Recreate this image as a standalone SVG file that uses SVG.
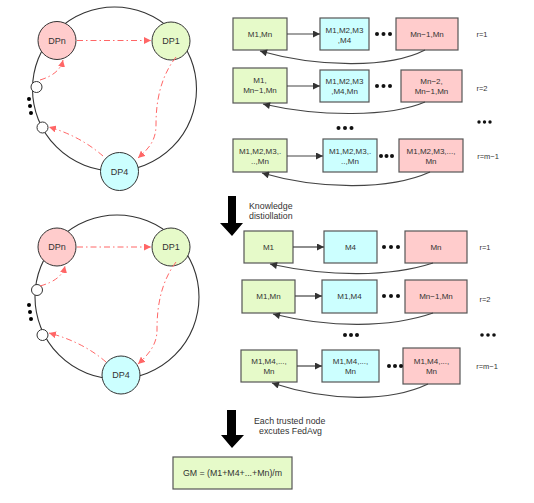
<svg xmlns="http://www.w3.org/2000/svg" width="534" height="503" viewBox="0 0 534 503">
<defs>
<marker id="ar" viewBox="0 0 10 10" refX="10" refY="5" markerWidth="7" markerHeight="7" orient="auto" markerUnits="userSpaceOnUse"><path d="M0,0 L10,5 L0,10 z" fill="#FF6666"/></marker>
<marker id="ab" viewBox="0 0 10 10" refX="10" refY="5" markerWidth="8" markerHeight="7" orient="auto" markerUnits="userSpaceOnUse"><path d="M0,0 L10,5 L0,10 z" fill="#333"/></marker>
<style>
.ring{fill:none;stroke:#333;stroke-width:1.1}
.g{fill:#E6FAC9;stroke:#555;stroke-width:1.2}
.b{fill:#CCFFFF;stroke:#555;stroke-width:1.2}
.p{fill:#FFCCCC;stroke:#555;stroke-width:1.2}
.sc{fill:#fff;stroke:#333;stroke-width:1}
.red{fill:none;stroke:#FF6666;stroke-width:1;stroke-dasharray:6 3 1.5 3;marker-end:url(#ar)}
.blk{fill:none;stroke:#444;stroke-width:1.2;marker-end:url(#ab)}
text{font-family:"Liberation Sans",Arial,sans-serif;fill:#333;text-anchor:middle}
.t{font-size:8px}
.dp{font-size:9px}
.r{font-size:7.5px}
.lab{font-size:8.8px;text-anchor:start}
</style>
</defs>

<!-- Ring 1 -->
<g id="ring1">
<circle class="ring" cx="114.5" cy="89" r="82"/>
<circle class="sc" cx="36.5" cy="87" r="5.5"/>
<circle class="sc" cx="42.5" cy="127.5" r="5.5"/>
<circle cx="29" cy="99" r="2"/><circle cx="30" cy="106" r="2"/><circle cx="31" cy="113" r="2"/>
</g>
<g id="DPn1"><circle cx="57" cy="40.5" r="19" fill="#FFCCCC" stroke="#333"/><text class="dp" x="57" y="43.5">DPn</text></g>
<g id="DP1a"><circle cx="171" cy="41" r="19" fill="#E6FAC9" stroke="#333"/><text class="dp" x="171" y="44">DP1</text></g>
<g id="DP4a"><circle cx="119.5" cy="171.5" r="19" fill="#CCFFFF" stroke="#333"/><text class="dp" x="119.5" y="174.5">DP4</text></g>

<!-- Ring 2 -->
<g id="ring2">
<circle class="ring" cx="117" cy="297" r="82"/>
<circle class="sc" cx="37" cy="290" r="5.5"/>
<circle class="sc" cx="42.5" cy="335" r="5.5"/>
<circle cx="29" cy="305" r="2"/><circle cx="30" cy="312" r="2"/><circle cx="31" cy="319" r="2"/>
</g>
<g id="DPn2"><circle cx="57" cy="247" r="19" fill="#FFCCCC" stroke="#333"/><text class="dp" x="57" y="250">DPn</text></g>
<g id="DP1b"><circle cx="171" cy="247" r="19" fill="#E6FAC9" stroke="#333"/><text class="dp" x="171" y="250">DP1</text></g>
<g id="DP4b"><circle cx="121" cy="375" r="19" fill="#CCFFFF" stroke="#333"/><text class="dp" x="121" y="378">DP4</text></g>

<!-- Section 1 boxes -->
<g id="s1r1g"><rect class="g" x="233" y="18" width="54" height="32"/><text class="t" x="260" y="37">M1,Mn</text></g>
<g id="s1r1b"><rect class="b" x="320" y="18" width="49" height="32"/><text class="t" x="344.5" y="33">M1,M2,M3</text><text class="t" x="344.5" y="43">,M4</text></g>
<g id="s1r1p"><rect class="p" x="396" y="18" width="62" height="32"/><text class="t" x="427" y="37">Mn−1,Mn</text></g>
<text class="r" x="482" y="37">r=1</text>
<g fill="#111"><circle cx="377" cy="34" r="2"/><circle cx="383.5" cy="34" r="2"/><circle cx="390" cy="34" r="2"/></g>

<g id="s1r2g"><rect class="g" x="233" y="68" width="54" height="35"/><text class="t" x="260" y="83">M1,</text><text class="t" x="260" y="93">Mn−1,Mn</text></g>
<g id="s1r2b"><rect class="b" x="320" y="70" width="49" height="32"/><text class="t" x="344.5" y="84">M1,M2,M3</text><text class="t" x="344.5" y="94">,M4,Mn</text></g>
<g id="s1r2p"><rect class="p" x="401" y="70" width="61" height="32"/><text class="t" x="431.5" y="84">Mn−2,</text><text class="t" x="431.5" y="94">Mn−1,Mn</text></g>
<text class="r" x="482" y="91">r=2</text>
<g fill="#111"><circle cx="377" cy="86" r="2"/><circle cx="383.5" cy="86" r="2"/><circle cx="390" cy="86" r="2"/></g>

<g fill="#111"><circle cx="338.5" cy="128" r="2"/><circle cx="345" cy="128" r="2"/><circle cx="351.5" cy="128" r="2"/></g>
<g fill="#111"><circle cx="479" cy="122" r="1.7"/><circle cx="484.5" cy="122" r="1.7"/><circle cx="490" cy="122" r="1.7"/></g>

<g id="s1r3g"><rect class="g" x="233" y="139" width="54" height="33"/><text class="t" x="260" y="154">M1,M2,M3,.</text><text class="t" x="260" y="164">..,Mn</text></g>
<g id="s1r3b"><rect class="b" x="323" y="139" width="54" height="33"/><text class="t" x="350" y="154">M1,M2,M3,.</text><text class="t" x="350" y="164">..,Mn</text></g>
<g id="s1r3p"><rect class="p" x="399" y="139" width="64" height="33"/><text class="t" x="431" y="154">M1,M2,M3,...,</text><text class="t" x="431" y="164">Mn</text></g>
<text class="r" x="488" y="159">r=m−1</text>
<g fill="#111"><circle cx="381" cy="156" r="2"/><circle cx="386.5" cy="156" r="2"/><circle cx="392" cy="156" r="2"/></g>

<!-- Knowledge distillation arrow -->
<g id="kd">
<path d="M228,196 H236 V223 H243 L232,236 L220,223 H228 Z" fill="#000"/>
<text class="lab" x="249" y="209">Knowledge</text>
<text class="lab" x="249" y="219">distiollation</text>
</g>

<!-- Section 2 boxes -->
<g id="s2r1g"><rect class="g" x="244" y="231" width="49" height="32"/><text class="t" x="268.5" y="250">M1</text></g>
<g id="s2r1b"><rect class="b" x="324" y="231" width="53" height="32"/><text class="t" x="350.5" y="250">M4</text></g>
<g id="s2r1p"><rect class="p" x="405" y="231" width="62" height="32"/><text class="t" x="436" y="250">Mn</text></g>
<text class="r" x="485" y="250">r=1</text>
<g fill="#111"><circle cx="384" cy="247" r="2"/><circle cx="391" cy="247" r="2"/><circle cx="398" cy="247" r="2"/></g>

<g id="s2r2g"><rect class="g" x="242" y="280" width="53" height="33"/><text class="t" x="268.5" y="299">M1,Mn</text></g>
<g id="s2r2b"><rect class="b" x="322" y="280" width="55" height="33"/><text class="t" x="349.5" y="299">M1,M4</text></g>
<g id="s2r2p"><rect class="p" x="405" y="280" width="62" height="33"/><text class="t" x="436" y="299">Mn−1,Mn</text></g>
<text class="r" x="485" y="302">r=2</text>
<g fill="#111"><circle cx="384" cy="296" r="2"/><circle cx="391" cy="296" r="2"/><circle cx="398" cy="296" r="2"/></g>

<g fill="#111"><circle cx="345" cy="335" r="2"/><circle cx="351" cy="335" r="2"/><circle cx="357" cy="335" r="2"/></g>
<g fill="#111"><circle cx="482" cy="335" r="1.8"/><circle cx="488" cy="335" r="1.8"/><circle cx="494" cy="335" r="1.8"/></g>

<g id="s2r3g"><rect class="g" x="241" y="350" width="56" height="32"/><text class="t" x="269" y="364">M1,M4,...,</text><text class="t" x="269" y="374">Mn</text></g>
<g id="s2r3b"><rect class="b" x="322" y="350" width="57" height="32"/><text class="t" x="350.5" y="364">M1,M4,...,</text><text class="t" x="350.5" y="374">Mn</text></g>
<g id="s2r3p"><rect class="p" x="403" y="348" width="57" height="36"/><text class="t" x="431.5" y="364">M1,M4,...,</text><text class="t" x="431.5" y="374">Mn</text></g>
<text class="r" x="487" y="369">r=m−1</text>
<g fill="#111"><circle cx="389" cy="366" r="2"/><circle cx="395" cy="366" r="2"/><circle cx="401" cy="366" r="2"/></g>

<!-- FedAvg arrow -->
<g id="fedavg">
<path d="M227,410 H236 V435 H244 L232,448 L221,435 H227 Z" fill="#000"/>
<text class="lab" x="254" y="424">Each trusted node</text>
<text class="lab" x="259" y="434">excutes FedAvg</text>
</g>
<g id="gm"><rect class="g" x="173" y="457" width="119" height="32"/><text style="font-size:8.8px" x="232.5" y="476">GM = (M1+M4+...+Mn)/m</text></g>

<!-- connectors -->
<g id="connectors">
<path class="red" d="M77,40.5 H151"/>
<path class="red" d="M176,57 C158,80 156,108 156,125 S147,150 138,158"/>
<path class="red" d="M40,80 Q60,74 63,60"/>
<path class="red" d="M103,156 Q80,136 49,127"/>

<path class="red" d="M77,247 H151"/>
<path class="red" d="M176,262 C158,286 157,315 157,330 S148,355 138,364"/>
<path class="red" d="M40,286 Q62,280 65,266"/>
<path class="red" d="M106,362 Q83,342 49,333"/>

<path class="blk" d="M287,34 H320"/>
<path class="blk" d="M425,50 C390,68 320,68 260,51"/>
<path class="blk" d="M287,86 H320"/>
<path class="blk" d="M425,102 C390,117 320,117 263,104"/>
<path class="blk" d="M287,156 H323"/>
<path class="blk" d="M430,172 C390,190 320,190 262,173"/>

<path class="blk" d="M293,247 H324"/>
<path class="blk" d="M433,263 C390,277 330,277 270,264"/>
<path class="blk" d="M295,296 H322"/>
<path class="blk" d="M433,313 C390,328 330,328 273,314"/>
<path class="blk" d="M297,366 H322"/>
<path class="blk" d="M428,384 C390,402 330,402 272,383"/>
</g>
</svg>
